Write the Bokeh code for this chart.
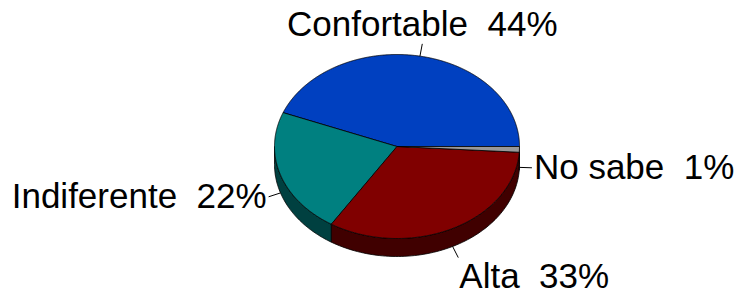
import numpy as np
from bokeh.plotting import figure
from bokeh.models import ColumnDataSource
from bokeh.core.properties import value
from bokeh.embed import file_html
from bokeh.resources import INLINE

# ---- data (counter-clockwise from 3 o'clock) ----
categories = ["Confortable", "Indiferente", "Alta", "No sabe"]
percents = [44, 22, 33, 1]
top_colors = ["#0040C0", "#008080", "#800000", "#999999"]
side_colors = ["#002060", "#004040", "#400000", "#4C4C4C"]

W, H = 734, 297
p = figure(width=W, height=H, x_range=(0, W), y_range=(0, H),
           output_backend="svg", toolbar_location=None, min_border=0)
p.axis.visible = False
p.grid.visible = False
p.outline_line_color = None
p.background_fill_color = "white"

# layout of the tilted pie (in pixel-like units, y up)
cx, cy = 396.5, 151.0
rx, ry = 122.5, 92.0
depth = 18.0
lift = 14.0  # text baseline correction

vals = np.array(percents, dtype=float)
fr = vals / vals.sum()
ends = np.cumsum(fr) * 2 * np.pi
starts = ends - fr * 2 * np.pi

def ell(a, dy=0.0):
    return cx + rx * np.cos(a), cy + ry * np.sin(a) - dy

# side walls (front half: angles between pi and 2pi)
wx, wy, wc = [], [], []
for s, e, c in zip(starts, ends, side_colors):
    a1, a2 = max(s, np.pi), min(e, 2 * np.pi)
    if a2 <= a1:
        continue
    a = np.linspace(a1, a2, 80)
    tx, ty = ell(a)
    bx, by = ell(a[::-1], depth)
    wx.append(list(tx) + list(bx))
    wy.append(list(ty) + list(by))
    wc.append(c)
p.patches(xs=wx, ys=wy, fill_color=wc, line_color="black", line_width=0.8)

# top wedges
tx_all, ty_all = [], []
for s, e in zip(starts, ends):
    a = np.linspace(s, e, max(3, int(200 * (e - s))))
    ex, ey = ell(a)
    tx_all.append([cx] + list(ex))
    ty_all.append([cy] + list(ey))
p.patches(xs=tx_all, ys=ty_all, fill_color=top_colors, line_color="black",
          line_width=0.8)

# labels with leader lines
lx0, ly0, lx1, ly1 = [], [], [], []
txs, tys, texts, aligns = [], [], [], []
for cat, pc, s, e in zip(categories, percents, starts, ends):
    m = (s + e) / 2
    ax, ay = ell(m)
    if np.sin(m) < 0:
        ay -= depth
    dx, dy = np.cos(m), np.sin(m)
    n = np.hypot(dx, dy)
    ex, ey = ax + 12.5 * dx / n, ay + 12.5 * dy / n
    lx0.append(ax); ly0.append(ay); lx1.append(ex); ly1.append(ey)
    deg = np.degrees(m) % 360
    if 60 <= deg <= 120:
        txs.append(ex); tys.append(ey + 6 + lift); aligns.append("center")
    elif 240 <= deg < 340:
        txs.append(ex + 1); tys.append(ey - 32 + lift); aligns.append("left")
    elif deg >= 340 or deg < 60:
        txs.append(ex + 2); tys.append(ey - 13 + lift); aligns.append("left")
    else:
        txs.append(ex - 2); tys.append(ey - 13 + lift); aligns.append("right")
    texts.append(f"{cat}\u00a0\u00a0{pc}%")

p.segment(x0=lx0, y0=ly0, x1=lx1, y1=ly1, line_color="black", line_width=1)
src = ColumnDataSource(dict(x=txs, y=tys, t=texts, a=aligns))
p.text(x="x", y="y", text="t", text_align="a", source=src,
       text_baseline="alphabetic", text_font=value("Liberation Sans"),
       text_font_size="35px", text_color="black")

open("out.html", "w").write(file_html(p, INLINE))
